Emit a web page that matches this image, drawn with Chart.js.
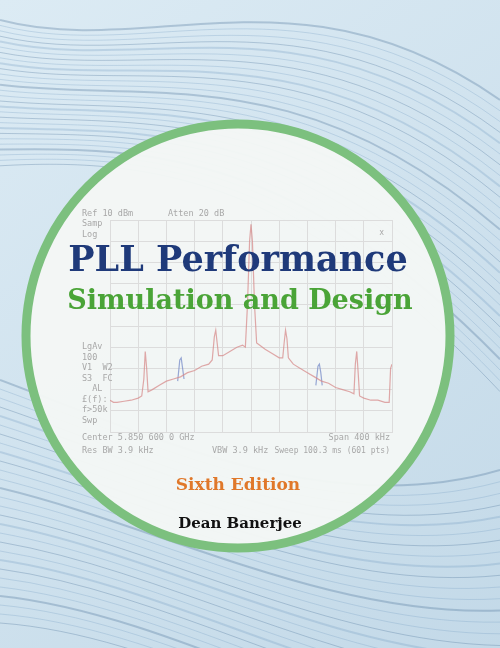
<!DOCTYPE html>
<html><head><meta charset="utf-8">
<script src="https://cdn.jsdelivr.net/npm/chart.js@4/dist/chart.umd.min.js"></script>
<style>html,body{margin:0;padding:0;background:#cfe3ef;}#w{width:500px;height:648px;}</style>
</head><body><div id="w"><canvas id="c" width="500" height="648"></canvas></div>
<script>
const redX = [-200,-195,-190,-180,-170,-160,-155,-152,-150,-148,-146,-140,-130,-120,-110,-100,-90,-80,-70,-60,-55,-52,-50,-48,-46,-40,-30,-20,-12,-8,-5,-2,0,2,5,8,12,20,30,40,45,47,49,51,53,60,70,80,90,100,110,120,130,140,146,148,150,152,154,160,170,180,190,196,198,200];
const redY = [-75,-76,-76,-75.5,-75,-74,-73,-65,-52,-60,-71,-70,-68,-66,-65,-64,-62,-61,-59,-58,-56,-45,-42,-48,-54,-54,-52,-50,-49,-50,-30,0,8,0,-30,-48,-49,-51,-53,-55,-55,-48,-42,-46,-55,-58,-60,-62,-64,-66,-67,-69,-70,-71,-72,-58,-52,-62,-73,-74,-75,-75,-76,-76,-60,-58];
const blueX = [-104,-101,-99,-97,-95,null,92,95,97,99,101];
const blueY = [-66,-56,-55,-60,-65,null,-68,-59,-58,-62,-68];
const topLabels = ["Ref 10 dBm","Atten 20 dB"];
const sideLabels = ["Samp","Log","","","","","LgAv","100","V1  W2","S3  FC","  AL","£(f):","f>50k","Swp"];
const bottomLabels = ["Center 5.850 600 0 GHz","Span 400 kHz","Res BW 3.9 kHz","VBW 3.9 kHz","Sweep 100.3 ms (601 pts)"];
const titleLines = ["PLL Performance","Simulation and Design","Sixth Edition","Dean Banerjee"];

const cover = {
  id:'cover',
  beforeDraw(ch){
    const c = ch.ctx; c.save();
    const g = c.createLinearGradient(0,0,500,648);
    g.addColorStop(0,'#dcebf4'); g.addColorStop(1,'#c3d9e8');
    c.fillStyle=g; c.fillRect(0,0,500,648);
    for(let i=0;i<28;i++){
      c.strokeStyle = i%3==0 ? 'rgba(70,110,150,0.3)' : 'rgba(120,160,195,0.3)';
      c.lineWidth = i%4==0?2:1;
      c.beginPath();
      const o=i*9;
      c.moveTo(0,20+o*0.6);
      c.bezierCurveTo(150,60+o*0.4,300,-40+o*0.9,500,100+o*1.2);
      c.stroke();
      c.beginPath();
      c.moveTo(0,380+o*1.0);
      c.bezierCurveTo(160,440+o*0.8,330,520+o*0.9,500,470+o*1.3);
      c.stroke();
    }
    c.beginPath(); c.arc(238,336,212,0,Math.PI*2);
    c.fillStyle='rgba(244,247,245,0.96)'; c.fill();
    c.lineWidth=9; c.strokeStyle='#7cc07e'; c.stroke();
    c.restore();
  },
  afterDraw(ch){
    const c=ch.ctx; c.save();
    c.fillStyle='#a8a8a8'; c.font='8.5px "DejaVu Sans Mono"'; c.textBaseline='middle';
    c.fillText(topLabels[0],82,214); c.fillText(topLabels[1],168,214);
    sideLabels.forEach((s,i)=>{ if(s) c.fillText(s,82,224+i*10.5+(i>=6?60:0)); });
    c.fillText(bottomLabels[0],82,438); c.textAlign='right'; c.fillText(bottomLabels[1],390,438);
    c.textAlign='left'; c.fillText(bottomLabels[2],82,451); c.fillText(bottomLabels[3],212,451);
    c.textAlign='right'; c.font='8px "DejaVu Sans Mono"'; c.fillText(bottomLabels[4],390,451);
    c.fillText('x',384,233);
    c.textAlign='center';
    c.fillStyle='#1f3a7a'; c.font='bold 35px "DejaVu Serif"'; c.fillText(titleLines[0],238,262);
    c.fillStyle='#4aa437'; c.font='bold 27px "DejaVu Serif"'; c.fillText(titleLines[1],240,302);
    c.fillStyle='#e0782a'; c.font='bold 17px "DejaVu Serif"'; c.fillText(titleLines[2],238,486);
    c.fillStyle='#111'; c.font='bold 15px "DejaVu Serif"'; c.fillText(titleLines[3],240,524);
    c.restore();
  }
};

new Chart(document.getElementById('c'),{
  type:'line',
  data:{datasets:[
    {data:redX.map((x,i)=>({x,y:redY[i]})),borderColor:'rgba(215,140,140,0.75)',borderWidth:1.2,pointRadius:0,tension:0},
    {data:blueX.map((x,i)=>({x,y:blueY[i]})),borderColor:'rgba(120,140,200,0.75)',borderWidth:1.2,pointRadius:0,spanGaps:false,tension:0}
  ]},
  options:{responsive:false,animation:false,devicePixelRatio:1,
    layout:{padding:{left:110,right:108,top:220,bottom:216}},
    plugins:{legend:{display:false},tooltip:{enabled:false}},
    scales:{
      x:{type:'linear',min:-200,max:200,ticks:{display:false,stepSize:40},grid:{color:'#dcdcdc',drawTicks:false},border:{color:'#dcdcdc'}},
      y:{min:-90,max:10,ticks:{display:false,stepSize:10},grid:{color:'#dcdcdc',drawTicks:false},border:{color:'#dcdcdc'}}
    }},
  plugins:[cover]
});
</script></body></html>
